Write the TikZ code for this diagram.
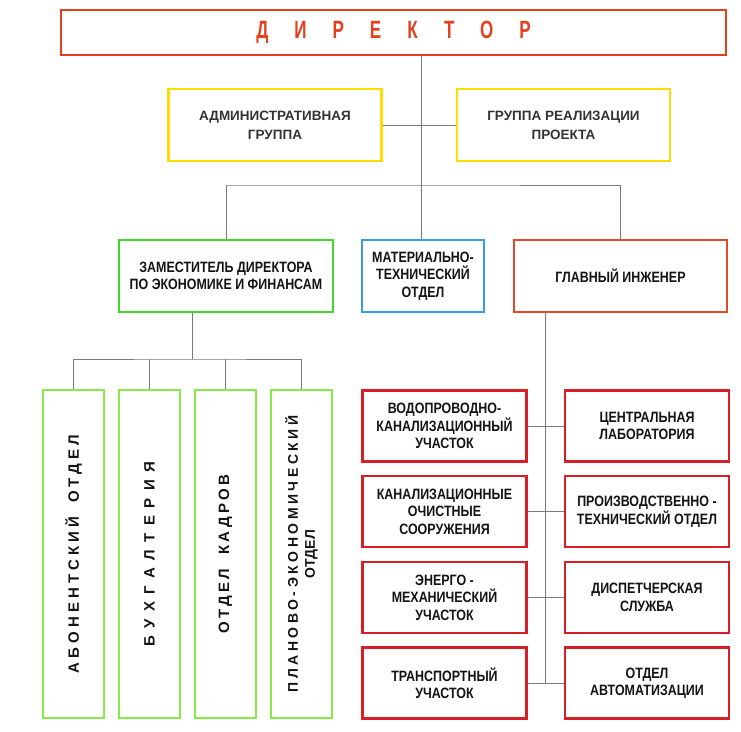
\documentclass[tikz,border=0pt]{standalone}
\usepackage{fontspec}
\setmainfont{Liberation Sans}
\newfontfamily\condfont{Liberation Sans}[FakeStretch=0.83]
\newfontfamily\dirfont{Liberation Sans}[FakeStretch=0.68]
\usetikzlibrary{positioning}

\definecolor{dirred}{HTML}{E5401E}
\definecolor{diryel}{HTML}{FFDD00}
\definecolor{zamgreen}{HTML}{44D62C}
\definecolor{otdgreen}{HTML}{86EA48}
\definecolor{matblue}{HTML}{3A9BE2}
\definecolor{glavred}{HTML}{E54A26}
\definecolor{uchred}{HTML}{D81F28}
\definecolor{linkgray}{HTML}{7A7A7A}
\definecolor{txtdark}{HTML}{141414}

\tikzset{
  unit/.style={draw, line width=2.4pt, fill=white, align=center, inner sep=0pt,
    text=txtdark, font=\condfont\bfseries\fontsize{15}{17.5}\selectfont},
  yelunit/.style={unit, draw=diryel, minimum width=213, minimum height=72,
    text=black!80, font=\bfseries\fontsize{13.5}{19}\selectfont},
  otdel/.style={unit, draw=otdgreen, rotate=90, minimum width=328, minimum height=61,
    font=\bfseries\fontsize{15}{18}\selectfont},
  uchastok/.style={unit, draw=uchred, minimum width=164, minimum height=71},
  link/.style={draw=linkgray, line width=0.9pt}
}

\begin{document}
\begin{tikzpicture}[x=1pt, y=-1pt]
\useasboundingbox (0,0) rectangle (741,731);

% top level
\node[unit, draw=dirred, minimum width=665, minimum height=45, text=dirred,
  font=\dirfont\bfseries\fontsize{25}{25}\selectfont] (dir) at (393.5,32.5)
  {\addfontfeature{LetterSpace=104}ДИРЕКТОР};
\node[yelunit] (adm) at (275,125) {АДМИНИСТРАТИВНАЯ\\ГРУППА};
\node[yelunit] (grp) at (563.5,125) {ГРУППА РЕАЛИЗАЦИИ\\ПРОЕКТА};

% second level
\node[unit, draw=zamgreen, minimum width=214, minimum height=72] (zam) at (226,276)
  {ЗАМЕСТИТЕЛЬ ДИРЕКТОРА\\ПО ЭКОНОМИКЕ И ФИНАНСАМ};
\node[unit, draw=matblue, minimum width=122, minimum height=72] (mat) at (423,276)
  {МАТЕРИАЛЬНО-\\ТЕХНИЧЕСКИЙ\\ОТДЕЛ};
\node[unit, draw=glavred, minimum width=213, minimum height=72] (glav) at (620.5,276)
  {ГЛАВНЫЙ ИНЖЕНЕР};

% departments under the deputy (rotated, so placed at coordinates)
\node[otdel] (abon) at (73.5,554)
  {\addfontfeature{LetterSpace=27}АБОНЕНТСКИЙ\kern14pt ОТДЕЛ};
\node[otdel] (buh) at (149.5,554) {\addfontfeature{LetterSpace=50}БУХГАЛТЕРИЯ};
\node[otdel] (kadr) at (225.5,554)
  {\addfontfeature{LetterSpace=22}ОТДЕЛ\kern14pt КАДРОВ};
\node[otdel, font=\bfseries\fontsize{14}{17}\selectfont] (plan) at (301.5,554)
  {\addfontfeature{LetterSpace=25}ПЛАНОВО-\kern4pt ЭКОНОМИЧЕСКИЙ\\ОТДЕЛ};

% units under the chief engineer
\node[uchastok] (vodo) at (444.5,426) {ВОДОПРОВОДНО-\\КАНАЛИЗАЦИОННЫЙ\\УЧАСТОК};
\node[uchastok, below of=vodo, node distance=85.7pt] (kos) {КАНАЛИЗАЦИОННЫЕ\\ОЧИСТНЫЕ\\СООРУЖЕНИЯ};
\node[uchastok, below of=kos, node distance=85.7pt] (energo) {ЭНЕРГО -\\МЕХАНИЧЕСКИЙ\\УЧАСТОК};
\node[uchastok, below of=energo, node distance=85.7pt] (trans) {ТРАНСПОРТНЫЙ\\УЧАСТОК};
\node[uchastok] (lab) at (647,426) {ЦЕНТРАЛЬНАЯ\\ЛАБОРАТОРИЯ};
\node[uchastok, below of=lab, node distance=85.7pt] (pto) {ПРОИЗВОДСТВЕННО -\\ТЕХНИЧЕСКИЙ ОТДЕЛ};
\node[uchastok, below of=pto, node distance=85.7pt] (disp) {ДИСПЕТЧЕРСКАЯ\\СЛУЖБА};
\node[uchastok, below of=disp, node distance=85.7pt] (avt) {ОТДЕЛ\\АВТОМАТИЗАЦИИ};

% connectors
\coordinate (bar) at (421,185);
\coordinate (zamdrop) at (192,359);
\coordinate (gline) at (545,0);
\draw[link] (dir.south -| bar) -- (mat.north -| bar);
\draw[link] (adm.east) -- (grp.west);
\draw[link] (zam.north |- bar) -- (bar) -- (glav.north |- bar);
\draw[link] (zam.north |- bar) -- (zam.north);
\draw[link] (glav.north |- bar) -- (glav.north);
\draw[link] (zam.south -| zamdrop) -- (zamdrop);
\draw[link] (abon.east) |- (zamdrop) -| (plan.east);
\draw[link] (buh.east) -- (buh.east |- zamdrop);
\draw[link] (kadr.east) -- (kadr.east |- zamdrop);
\draw[link] (glav.south -| gline) -- (trans.east -| gline);
\draw[link] (vodo.east) -- (lab.west);
\draw[link] (kos.east) -- (pto.west);
\draw[link] (energo.east) -- (disp.west);
\draw[link] (trans.east) -- (avt.west);
\end{tikzpicture}
\end{document}
